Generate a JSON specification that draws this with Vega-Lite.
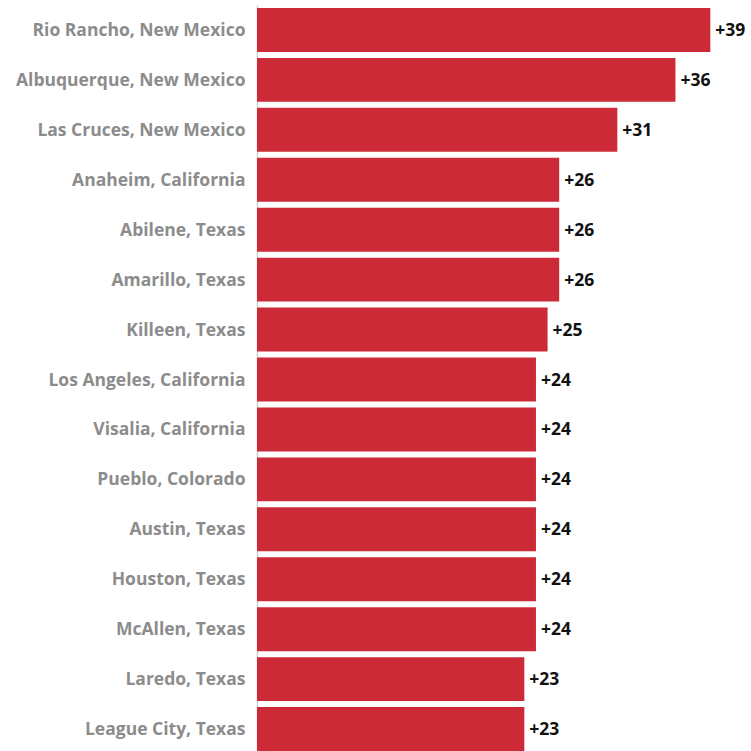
{
  "$schema": "https://vega.github.io/schema/vega-lite/v6.json",
  "width": 494,
  "height": 749,
  "autosize": {"type": "none"},
  "padding": {"left": 257, "top": 5, "right": 0, "bottom": 0},
  "background": "white",
  "config": {"view": {"stroke": null}},
  "data": {"values": [
    {"city": "Rio Rancho, New Mexico", "value": 39, "label": "+39"},
    {"city": "Albuquerque, New Mexico", "value": 36, "label": "+36"},
    {"city": "Las Cruces, New Mexico", "value": 31, "label": "+31"},
    {"city": "Anaheim, California", "value": 26, "label": "+26"},
    {"city": "Abilene, Texas", "value": 26, "label": "+26"},
    {"city": "Amarillo, Texas", "value": 26, "label": "+26"},
    {"city": "Killeen, Texas", "value": 25, "label": "+25"},
    {"city": "Los Angeles, California", "value": 24, "label": "+24"},
    {"city": "Visalia, California", "value": 24, "label": "+24"},
    {"city": "Pueblo, Colorado", "value": 24, "label": "+24"},
    {"city": "Austin, Texas", "value": 24, "label": "+24"},
    {"city": "Houston, Texas", "value": 24, "label": "+24"},
    {"city": "McAllen, Texas", "value": 24, "label": "+24"},
    {"city": "Laredo, Texas", "value": 23, "label": "+23"},
    {"city": "League City, Texas", "value": 23, "label": "+23"}
  ]},
  "encoding": {
    "y": {
      "field": "city", "type": "nominal", "sort": null,
      "scale": {"paddingInner": 0.12, "paddingOuter": 0.06},
      "axis": {
        "title": null, "ticks": false, "grid": false,
        "domainColor": "#d0d0d0", "domainWidth": 1.5,
        "labelColor": "#8c8c8c", "labelFont": "Open Sans", "labelFontWeight": "bold",
        "labelFontSize": 17.5, "labelPadding": 12, "labelLimit": 300, "labelOffset": 1
      }
    },
    "x": {
      "field": "value", "type": "quantitative",
      "scale": {"domain": [0, 42.5], "nice": false},
      "axis": null
    }
  },
  "layer": [
    {"mark": {"type": "bar", "color": "#cc2a36"}},
    {"mark": {"type": "text", "align": "left", "dx": 5, "dy": 1, "font": "Open Sans", "fontWeight": "bold", "fontSize": 17.5, "color": "#111111"},
     "encoding": {"text": {"field": "label"}}}
  ]
}
